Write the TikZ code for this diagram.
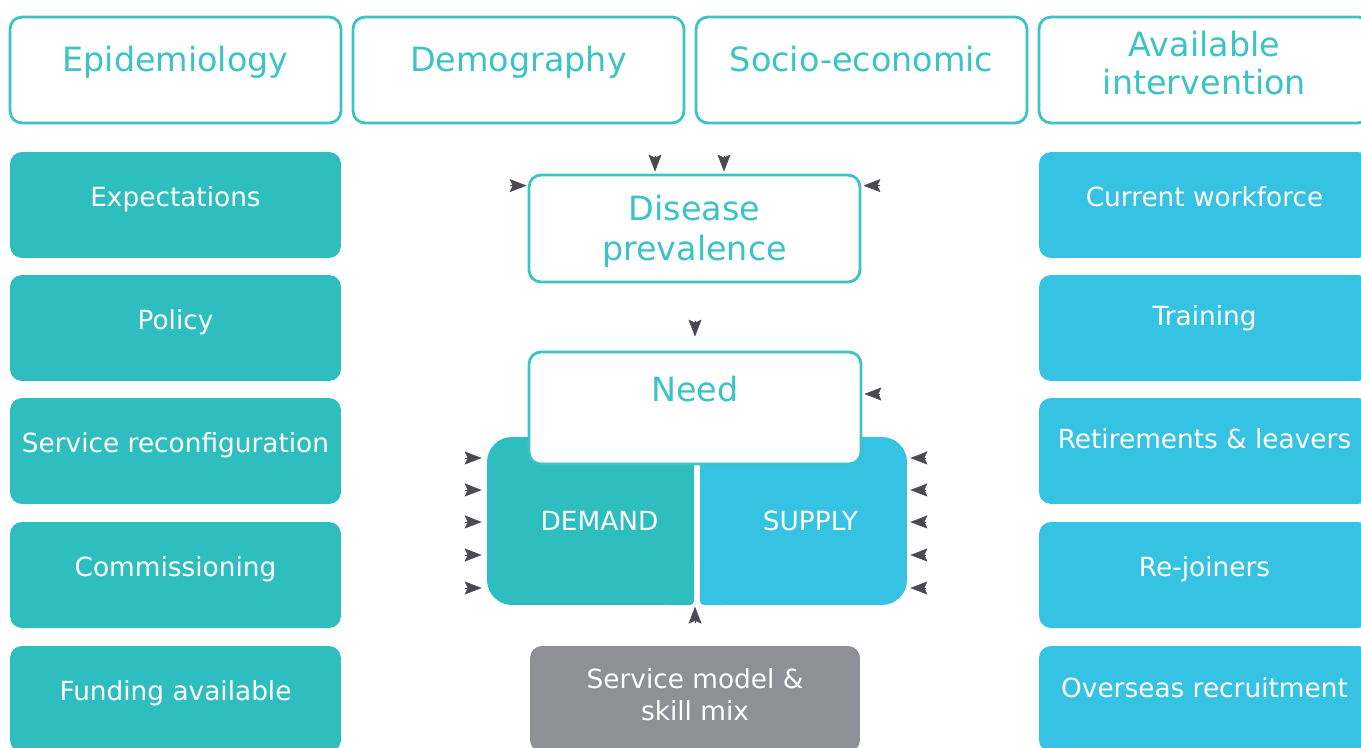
\documentclass[tikz,border=0pt]{standalone}
\usepackage{fontspec}
\setmainfont{DejaVu Sans}
\usetikzlibrary{arrows.meta}
\definecolor{tealline}{HTML}{3CC3C6}
\definecolor{tealfill}{HTML}{2EBEC0}
\definecolor{bluefill}{HTML}{35C2E3}
\definecolor{greyfill}{HTML}{8E9095}
\definecolor{headc}{HTML}{4A4A52}
\begin{document}
\begin{tikzpicture}[x=0.02cm, y=-0.02cm,
    box/.style={rounded corners=0.24cm, minimum width=6.62cm, minimum height=2.12cm, align=center, inner sep=2pt},
    outbox/.style={box, draw=tealline, line width=1.6pt, fill=white, text=tealline, font=\fontsize{19}{23}\selectfont},
    smallbox/.style={box, text=white, font=\fontsize{15}{18}\selectfont},
    lift/.style={text height=0.4cm, text depth=0.35cm},
    biglift/.style={text height=0.55cm, text depth=0.5cm},
    halfbox/.style={rounded corners=0.5cm, minimum width=4.14cm, minimum height=3.36cm, text=white, font=\fontsize{15}{18}\selectfont},
    inhead/.style={-{Stealth[length=0.34cm, width=0.26cm, inset=0.06cm]}, draw=headc, fill=headc, line width=0.3pt}]
    \clip (0,0) rectangle (1361,747);
    % Top row: drivers
    \node[outbox, biglift] (epi) at (175.5,70) {Epidemiology};
    \node[outbox, biglift] (demo) at (518.5,70) {Demography};
    \node[outbox, biglift] (socio) at (861.5,70) {Socio-economic};
    \node[outbox, font=\fontsize{19}{21.5}\selectfont, text height=1.44cm, text depth=0.46cm] (interv) at (1204.5,70) {Available\\intervention};
    % Left column: demand side factors
    \node[smallbox, lift, fill=tealfill] (expect) at (175.5,205) {Expectations};
    \node[smallbox, lift, fill=tealfill] (policy) at (175.5,328) {Policy};
    \node[smallbox, lift, fill=tealfill] (reconf) at (175.5,451) {Service reconfiguration};
    \node[smallbox, lift, fill=tealfill] (commis) at (175.5,575) {Commissioning};
    \node[smallbox, lift, fill=tealfill] (funding) at (175.5,699) {Funding available};
    % Right column: supply side factors
    \node[smallbox, lift, fill=bluefill] (workforce) at (1204.5,205) {Current workforce};
    \node[smallbox, lift, fill=bluefill, text depth=0.5cm] (training) at (1204.5,328) {Training};
    \node[smallbox, lift, fill=bluefill, text depth=0.5cm] (leavers) at (1204.5,451) {Retirements \& leavers};
    \node[smallbox, lift, fill=bluefill] (rejoin) at (1204.5,575) {Re-joiners};
    \node[smallbox, lift, fill=bluefill, text depth=0.45cm] (overseas) at (1204.5,699) {Overseas recruitment};
    % Demand and supply halves, inner corners kept tight
    \node[halfbox, fill=tealfill] (demand) at (590.5,521) {\hspace*{0.36cm}DEMAND};
    \node[halfbox, fill=bluefill] (supply) at (803.5,521) {\hspace*{0.28cm}SUPPLY};
    \fill[tealfill, rounded corners=0.08cm] (665,560) rectangle (694,605);
    \fill[bluefill, rounded corners=0.08cm] (700,560) rectangle (730,605);
    % Centre boxes
    \node[outbox, minimum width=6.64cm, minimum height=2.24cm, text height=0.55cm, text depth=0.8cm] (need) at (695,408) {Need};
    \node[outbox, minimum height=2.14cm, text height=1.55cm, text depth=0.26cm] (prev) at (694.5,228.5) {Disease\\prevalence};
    \node[smallbox, fill=greyfill, minimum width=6.6cm, text height=1.1cm, text depth=0.24cm] (smix) at (695,699) {Service model \&\\skill mix};
    % Arrow heads into Disease prevalence
    \draw[inhead] ([xshift=-0.79cm, yshift=0.36cm]prev.north) -- ([xshift=-0.79cm, yshift=0.04cm]prev.north);
    \draw[inhead] ([xshift=0.59cm, yshift=0.36cm]prev.north) -- ([xshift=0.59cm, yshift=0.04cm]prev.north);
    \draw[inhead] ([xshift=-0.36cm, yshift=-0.24cm]prev.north west) -- ([xshift=-0.02cm, yshift=-0.24cm]prev.north west);
    \draw[inhead] ([xshift=0.38cm, yshift=-0.24cm]prev.north east) -- ([xshift=0.04cm, yshift=-0.24cm]prev.north east);
    % Arrow heads into Need
    \draw[inhead] ([yshift=0.6cm]need.north) -- ([yshift=0.28cm]need.north);
    \draw[inhead] ([xshift=0.36cm, yshift=0.28cm]need.east) -- ([xshift=0.04cm, yshift=0.28cm]need.east);
    % Arrow heads into DEMAND
    \draw[inhead] ([xshift=-0.44cm, yshift=1.26cm]demand.west) -- ([xshift=-0.1cm, yshift=1.26cm]demand.west);
    \draw[inhead] ([xshift=-0.44cm, yshift=0.62cm]demand.west) -- ([xshift=-0.1cm, yshift=0.62cm]demand.west);
    \draw[inhead] ([xshift=-0.44cm, yshift=-0.02cm]demand.west) -- ([xshift=-0.1cm, yshift=-0.02cm]demand.west);
    \draw[inhead] ([xshift=-0.44cm, yshift=-0.68cm]demand.west) -- ([xshift=-0.1cm, yshift=-0.68cm]demand.west);
    \draw[inhead] ([xshift=-0.44cm, yshift=-1.34cm]demand.west) -- ([xshift=-0.1cm, yshift=-1.34cm]demand.west);
    % Arrow heads into SUPPLY
    \draw[inhead] ([xshift=0.38cm, yshift=1.26cm]supply.east) -- ([xshift=0.06cm, yshift=1.26cm]supply.east);
    \draw[inhead] ([xshift=0.38cm, yshift=0.62cm]supply.east) -- ([xshift=0.06cm, yshift=0.62cm]supply.east);
    \draw[inhead] ([xshift=0.38cm, yshift=-0.02cm]supply.east) -- ([xshift=0.06cm, yshift=-0.02cm]supply.east);
    \draw[inhead] ([xshift=0.38cm, yshift=-0.68cm]supply.east) -- ([xshift=0.06cm, yshift=-0.68cm]supply.east);
    \draw[inhead] ([xshift=0.38cm, yshift=-1.34cm]supply.east) -- ([xshift=0.06cm, yshift=-1.34cm]supply.east);
    % Arrow head from Service model up to the gap
    \draw[inhead] ([yshift=0.46cm]smix.north) -- ([yshift=0.78cm]smix.north);
\end{tikzpicture}
\end{document}
